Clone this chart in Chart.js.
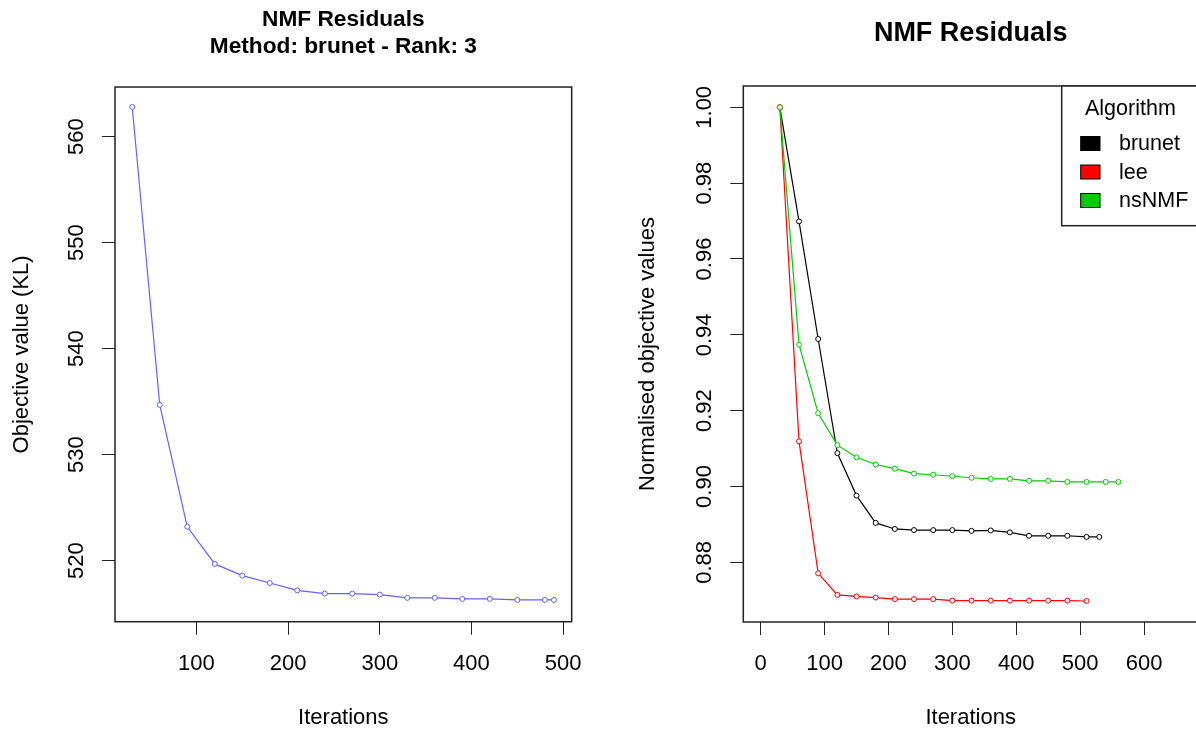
<!DOCTYPE html>
<html>
<head>
<meta charset="utf-8">
<title>NMF Residuals</title>
<script src="https://cdn.jsdelivr.net/npm/chart.js@4.4.1/dist/chart.umd.min.js"></script>
<style>
  html, body { margin: 0; padding: 0; background: #ffffff; overflow: hidden; }
  #wrap { position: relative; width: 1196px; height: 731px; overflow: hidden; background: #ffffff; }
  canvas { position: absolute; top: 0; }
  #residuals { left: 0; width: 598px; height: 731px; }
  #comparison { left: 598px; width: 620px; height: 731px; }
</style>
</head>
<body>
<div id="wrap">
  <canvas id="residuals" width="598" height="731"></canvas>
  <canvas id="comparison" width="620" height="731"></canvas>
</div>
<script>
// ---- single run: brunet, rank 3 (KL objective) ----
const brunetRunIterations = [30, 60, 90, 120, 150, 180, 210, 240, 270, 300, 330, 360, 390, 420, 450, 480, 490];
const brunetRunObjective  = [562.8, 534.7, 523.2, 519.7, 518.6, 517.9, 517.2, 516.9, 516.9, 516.8, 516.5, 516.5, 516.4, 516.4, 516.3, 516.3, 516.3];

// ---- normalised objective per algorithm ----
const algorithms      = ['brunet', 'lee', 'nsNMF'];
const algorithmColors = ['#000000', '#ff0000', '#00cd00'];

const brunetIterations = [30, 60, 90, 120, 150, 180, 210, 240, 270, 300, 330, 360, 390, 420, 450, 480, 510, 530];
const brunetNormalised = [1.000, 0.9699, 0.9389, 0.9088, 0.8976, 0.8904, 0.8888, 0.8885, 0.8885, 0.8885, 0.8883, 0.8884, 0.8879, 0.8870, 0.8870, 0.8870, 0.8867, 0.8867];

const leeIterations = [30, 60, 90, 120, 150, 180, 210, 240, 270, 300, 330, 360, 390, 420, 450, 480, 510];
const leeNormalised = [1.000, 0.9119, 0.8771, 0.8714, 0.8710, 0.8707, 0.8703, 0.8703, 0.8703, 0.8699, 0.8699, 0.8699, 0.8699, 0.8699, 0.8699, 0.8699, 0.8698];

const nsnmfIterations = [30, 60, 90, 120, 150, 180, 210, 240, 270, 300, 330, 360, 390, 420, 450, 480, 510, 540, 560];
const nsnmfNormalised = [1.000, 0.9374, 0.9193, 0.9109, 0.9077, 0.9058, 0.9047, 0.9034, 0.9031, 0.9027, 0.9023, 0.9020, 0.9020, 0.9015, 0.9015, 0.9012, 0.9012, 0.9012, 0.9012];

// ---- tick labels ----
const residualXTicks  = [100, 200, 300, 400, 500];
const residualYTicks  = [520, 530, 540, 550, 560];
const comparisonXTicks = [0, 100, 200, 300, 400, 500, 600];
const comparisonYTicks = [0.88, 0.90, 0.92, 0.94, 0.96, 0.98, 1.00];

const FONT = "'Liberation Sans', Arial, Helvetica, sans-serif";
const CANVAS_H = 731;
const AXIS_COLOR = '#222222';

// R-style frame around the plotting region
const frame = {
  id: 'frame',
  afterDraw(chart) {
    const { ctx, chartArea: a } = chart;
    ctx.save();
    ctx.strokeStyle = AXIS_COLOR;
    ctx.lineWidth = 1.5;
    ctx.strokeRect(a.left, a.top, a.right - a.left, a.bottom - a.top);
    ctx.restore();
  }
};

// boxed legend with filled squares, placed inside the plotting region
const boxedLegend = {
  id: 'boxedLegend',
  afterDraw(chart, args, o) {
    if (!o || !o.display) return;
    const { ctx, chartArea: a } = chart;
    ctx.save();
    ctx.fillStyle = '#ffffff';
    ctx.fillRect(o.left, a.top, o.width, o.height);
    ctx.strokeStyle = AXIS_COLOR;
    ctx.lineWidth = 1.5;
    ctx.strokeRect(o.left, a.top, o.width, o.height);
    ctx.font = o.fontSize + 'px ' + FONT;
    ctx.fillStyle = '#000000';
    ctx.textAlign = 'left';
    ctx.textBaseline = 'middle';
    ctx.fillText(o.title, o.titleX, a.top + o.titleY);
    chart.data.datasets.forEach((ds, i) => {
      const cy = a.top + o.firstRowY + i * o.rowStep;
      ctx.fillStyle = ds.borderColor;
      ctx.fillRect(o.boxX, cy - o.boxH / 2, o.boxW, o.boxH);
      ctx.strokeStyle = '#000000';
      ctx.lineWidth = 1;
      ctx.strokeRect(o.boxX, cy - o.boxH / 2, o.boxW, o.boxH);
      ctx.fillStyle = '#000000';
      ctx.fillText(ds.label, o.textX, cy + 1);
    });
    ctx.restore();
  }
};

function xAxis(min, max, ticks, height) {
  return {
    type: 'linear', position: 'bottom', bounds: 'data', min, max,
    afterBuildTicks: s => { s.ticks = ticks.map(v => ({ value: v })); },
    afterFit: s => { s.height = height; },
    border: { display: false },
    grid: { display: true, drawOnChartArea: false, drawTicks: true, tickLength: 13, color: AXIS_COLOR, lineWidth: 1 },
    ticks: { autoSkip: false, maxRotation: 0, minRotation: 0, padding: 16, color: '#000000',
             font: { family: FONT, size: 22 }, callback: v => String(v) },
    title: { display: true, text: 'Iterations', color: '#000000',
             font: { family: FONT, size: 22, lineHeight: 1.0 }, padding: { top: 0, bottom: 2 } }
  };
}

function yAxis(min, max, ticks, width, labelPad, titleText, titlePad, fmt) {
  return {
    type: 'linear', position: 'left', bounds: 'data', min, max,
    afterBuildTicks: s => { s.ticks = ticks.map(v => ({ value: v })); },
    afterFit: s => { s.width = width; },
    border: { display: false },
    grid: { display: true, drawOnChartArea: false, drawTicks: true, tickLength: 13, color: AXIS_COLOR, lineWidth: 1 },
    ticks: { autoSkip: false, minRotation: 90, maxRotation: 90, crossAlign: 'center', padding: labelPad,
             color: '#000000', font: { family: FONT, size: 22 }, callback: fmt },
    title: { display: true, text: titleText, color: '#000000',
             font: { family: FONT, size: 22, lineHeight: 1.2 }, padding: { top: titlePad, bottom: 0 } }
  };
}

function series(label, xs, ys, color, order) {
  return {
    label,
    data: xs.map((x, i) => ({ x, y: ys[i] })),
    borderColor: color,
    backgroundColor: color,
    borderWidth: 1.2,
    pointRadius: 2.5,
    pointBorderWidth: 1,
    pointBorderColor: color,
    pointBackgroundColor: '#ffffff',
    pointHoverRadius: 2.5,
    tension: 0,
    order
  };
}

Chart.defaults.font.family = FONT;

// left panel: objective value of the brunet run
new Chart(document.getElementById('residuals'), {
  type: 'line',
  data: {
    datasets: [series('brunet', brunetRunIterations, brunetRunObjective, '#6262ff', 0)]
  },
  options: {
    responsive: false, animation: false, devicePixelRatio: 1,
    layout: { padding: { left: 0, top: 0, right: 24.7, bottom: 0 } },
    scales: {
      x: xAxis(11.2, 509.3, residualXTicks, CANVAS_H - 621.7),
      y: yAxis(514.25, 564.68, residualYTicks, 115, 7, 'Objective value (KL)', 8.8, v => String(v))
    },
    plugins: {
      legend: { display: false },
      tooltip: { enabled: false },
      title: {
        display: true, fullSize: false, color: '#000000',
        text: ['NMF Residuals', 'Method: brunet - Rank: 3'],
        font: { family: FONT, size: 22.7, weight: 'bold', lineHeight: 1.19 },
        padding: { top: 6.5, bottom: 26.5 }
      }
    }
  },
  plugins: [frame]
});

// right panel: normalised objective for each algorithm
new Chart(document.getElementById('comparison'), {
  type: 'line',
  data: {
    datasets: [
      series(algorithms[0], brunetIterations, brunetNormalised, algorithmColors[0], 2),
      series(algorithms[1], leeIterations, leeNormalised, algorithmColors[1], 1),
      series(algorithms[2], nsnmfIterations, nsnmfNormalised, algorithmColors[2], 0)
    ]
  },
  options: {
    responsive: false, animation: false, devicePixelRatio: 1,
    layout: { padding: { left: 0, top: 0, right: 20, bottom: 0 } },
    scales: {
      x: xAxis(-27.2, 684.5, comparisonXTicks, CANVAS_H - 622),
      y: yAxis(0.86426, 1.00562, comparisonYTicks, 145.3, 4, 'Normalised objective values', 36.8, v => v.toFixed(2))
    },
    plugins: {
      legend: { display: false },
      tooltip: { enabled: false },
      title: {
        display: true, fullSize: false, color: '#000000',
        text: 'NMF Residuals',
        font: { family: FONT, size: 27, weight: 'bold', lineHeight: 1.2 },
        padding: { top: 17.8, bottom: 35.8 }
      },
      boxedLegend: {
        display: true, title: 'Algorithm', fontSize: 21.5,
        left: 463.7, width: 200, height: 139.7,
        titleX: 487, titleY: 23.3,
        boxX: 482.7, boxW: 19.3, boxH: 14,
        textX: 521, firstRowY: 57.5, rowStep: 28.5
      }
    }
  },
  plugins: [frame, boxedLegend]
});
</script>
</body>
</html>
